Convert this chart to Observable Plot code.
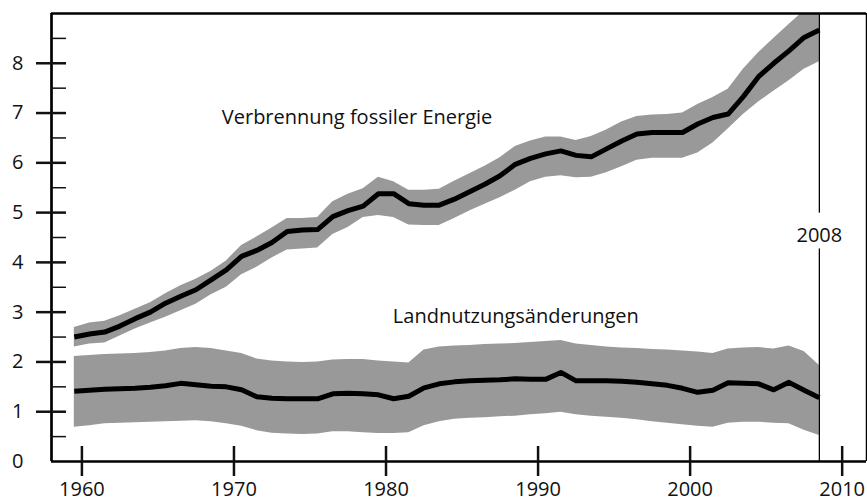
<!DOCTYPE html>
<html><head><meta charset="utf-8">
<script src="https://cdn.jsdelivr.net/npm/d3@7"></script>
<script src="https://cdn.jsdelivr.net/npm/@observablehq/plot@0.6"></script>
<style>html,body{margin:0;padding:0;background:#fff}svg{display:block}</style>
</head><body><div id="chart"></div>
<script>
// Years (annual values, drawn at mid-year)
const years = [1959,1960,1961,1962,1963,1964,1965,1966,1967,1968,1969,1970,1971,1972,1973,1974,1975,1976,1977,1978,1979,1980,1981,1982,1983,1984,1985,1986,1987,1988,1989,1990,1991,1992,1993,1994,1995,1996,1997,1998,1999,2000,2001,2002,2003,2004,2005,2006,2007,2008];

// Verbrennung fossiler Energie (central value, lower and upper bound)
const fossil = [2.50,2.56,2.60,2.72,2.87,3.00,3.18,3.32,3.45,3.65,3.85,4.12,4.24,4.40,4.62,4.65,4.66,4.92,5.04,5.13,5.38,5.38,5.18,5.15,5.15,5.27,5.42,5.57,5.74,5.97,6.09,6.18,6.24,6.15,6.12,6.28,6.44,6.58,6.61,6.61,6.61,6.78,6.91,6.98,7.33,7.73,8.00,8.25,8.52,8.67];
const fossilLow = [2.30,2.36,2.38,2.52,2.66,2.78,2.90,3.03,3.16,3.35,3.50,3.75,3.90,4.09,4.25,4.27,4.29,4.56,4.70,4.90,4.94,4.90,4.75,4.74,4.74,4.88,5.03,5.17,5.30,5.45,5.62,5.71,5.74,5.70,5.71,5.80,5.92,6.05,6.09,6.09,6.09,6.20,6.40,6.68,6.97,7.22,7.44,7.65,7.88,8.03];
const fossilHigh = [2.69,2.78,2.82,2.93,3.06,3.19,3.37,3.53,3.66,3.82,4.03,4.34,4.51,4.69,4.88,4.88,4.90,5.22,5.37,5.48,5.71,5.62,5.45,5.45,5.47,5.63,5.78,5.93,6.10,6.33,6.44,6.52,6.52,6.45,6.53,6.66,6.82,6.93,6.96,6.97,7.00,7.17,7.31,7.48,7.88,8.21,8.50,8.78,9.05,9.25];

// Landnutzungsänderungen (central value, lower and upper bound)
const landUse = [1.41,1.43,1.45,1.46,1.47,1.49,1.52,1.57,1.54,1.51,1.50,1.44,1.30,1.27,1.26,1.26,1.26,1.36,1.37,1.36,1.34,1.26,1.31,1.48,1.56,1.60,1.62,1.63,1.64,1.66,1.65,1.65,1.79,1.62,1.62,1.62,1.61,1.59,1.56,1.53,1.47,1.39,1.43,1.58,1.57,1.56,1.44,1.59,1.43,1.28];
const landLow = [0.69,0.72,0.76,0.77,0.78,0.79,0.80,0.81,0.82,0.80,0.76,0.71,0.62,0.57,0.55,0.54,0.55,0.60,0.60,0.58,0.56,0.56,0.58,0.72,0.80,0.85,0.87,0.88,0.90,0.91,0.94,0.96,0.99,0.94,0.91,0.89,0.87,0.84,0.80,0.77,0.74,0.71,0.69,0.77,0.79,0.79,0.77,0.76,0.63,0.52];
const landHigh = [2.11,2.13,2.15,2.16,2.17,2.19,2.22,2.27,2.29,2.27,2.22,2.17,2.06,2.02,2.00,1.99,2.00,2.04,2.05,2.05,2.02,2.00,1.98,2.24,2.30,2.32,2.33,2.35,2.36,2.37,2.39,2.41,2.43,2.36,2.33,2.30,2.28,2.27,2.25,2.24,2.22,2.20,2.17,2.26,2.28,2.29,2.26,2.32,2.21,1.93];

// Axes
const xDomain = [1958, 2011.6];
const yDomain = [0, 9];
const xTicks = [1960, 1970, 1980, 1990, 2000, 2010];
const yMajor = [1, 2, 3, 4, 5, 6, 7, 8];
const yMinor = [0.5, 1.5, 2.5, 3.5, 4.5, 5.5, 6.5, 7.5, 8.5];
const yLabels = [0, 1, 2, 3, 4, 5, 6, 7, 8];

// Annotations
const markerYear = [2008.5];
const markerLabel = ["2008"];
const seriesLabels = [
  {text: "Verbrennung fossiler Energie", x: 1969.2, y: 6.90},
  {text: "Landnutzungsänderungen", x: 1980.45, y: 2.91}
];

const rows = years.map((yr, i) => ({
  x: yr + 0.5,
  f: fossil[i], fl: fossilLow[i], fh: fossilHigh[i],
  l: landUse[i], ll: landLow[i], lh: landHigh[i]
}));

const band = "#999999";
const font = "'Open Sans', 'DejaVu Sans', sans-serif";

const chart = Plot.plot({
  width: 867,
  height: 504,
  marginLeft: 51,
  marginRight: 1,
  marginTop: 13,
  marginBottom: 43,
  style: {fontFamily: font, fontSize: "20px", color: "#111", background: "#fff"},
  x: {domain: xDomain},
  y: {domain: yDomain},
  marks: [
    Plot.areaY(rows, {x: "x", y1: "fl", y2: "fh", fill: band, clip: true}),
    Plot.areaY(rows, {x: "x", y1: "ll", y2: "lh", fill: band, clip: true}),
    Plot.lineY(rows, {x: "x", y: "f", stroke: "#000", strokeWidth: 5, strokeLinejoin: "round", strokeLinecap: "butt"}),
    Plot.lineY(rows, {x: "x", y: "l", stroke: "#000", strokeWidth: 5, strokeLinejoin: "round", strokeLinecap: "butt"}),
    // 2008 marker line, interrupted around its label
    Plot.ruleX(markerYear, {x: d => d, y1: yDomain[0], y2: 4.27, stroke: "#000", strokeWidth: 1.3}),
    Plot.ruleX(markerYear, {x: d => d, y1: 4.99, y2: yDomain[1], stroke: "#000", strokeWidth: 1.3}),
    Plot.text(markerLabel, {x: markerYear[0], y: 4.54, text: d => d, fontSize: 20, fill: "#111", textAnchor: "middle", lineAnchor: "middle"}),
    // series labels
    Plot.text(seriesLabels, {x: "x", y: "y", text: "text", fontSize: 20, fill: "#111", textAnchor: "start", lineAnchor: "middle"}),
    // frame
    Plot.ruleY([yDomain[0]], {stroke: "#000", strokeWidth: 2.7}),
    Plot.ruleY([yDomain[1]], {stroke: "#000", strokeWidth: 2.3}),
    Plot.ruleX([xDomain[0]], {stroke: "#000", strokeWidth: 2.7}),
    Plot.ruleX([xDomain[1]], {stroke: "#000", strokeWidth: 1.5}),
    // y ticks
    Plot.axisY(yMajor, {tickSize: 30, dx: 15, strokeWidth: 2.5, tickFormat: () => "", label: null}),
    Plot.axisY(yMinor, {tickSize: 15, dx: 15, strokeWidth: 1.5, tickFormat: () => "", label: null}),
    Plot.axisY(yLabels, {tickSize: 0, tickPadding: 28, fontSize: 20, tickFormat: d => String(d), label: null}),
    // x ticks
    Plot.axisX(xTicks, {tickSize: 30, dy: -15, strokeWidth: 2.5, tickFormat: () => "", label: null}),
    Plot.axisX(xTicks, {tickSize: 0, tickPadding: 20, fontSize: 20, tickFormat: d => String(d), label: null})
  ]
});
document.getElementById("chart").appendChild(chart);
</script>
</body></html>
